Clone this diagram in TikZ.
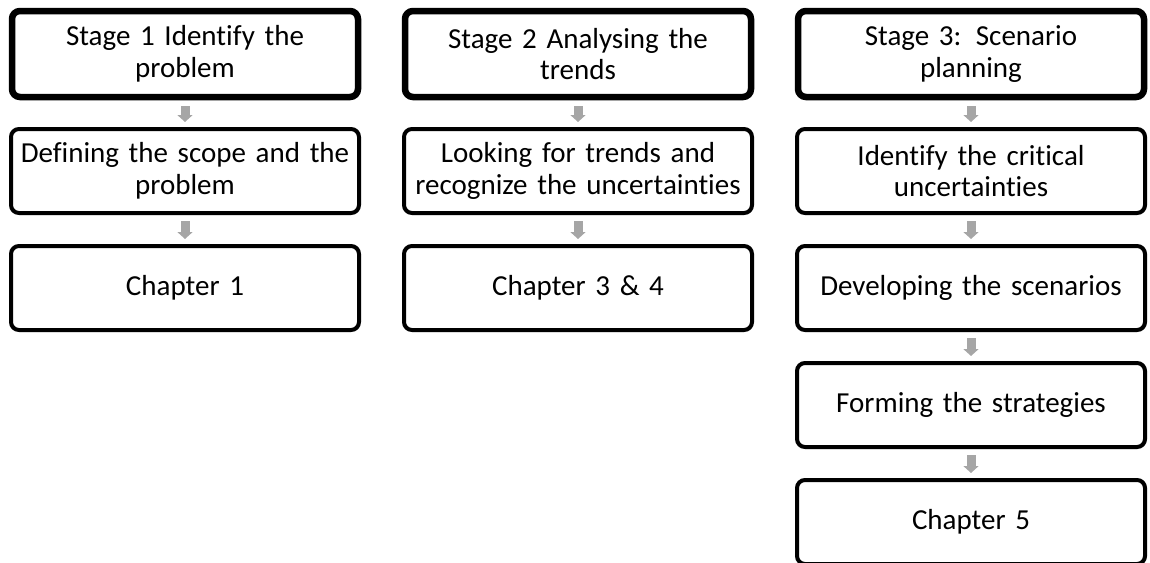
\documentclass[tikz,border=0pt]{standalone}
\usepackage{fontspec}
\setmainfont{Carlito}[Ligatures=NoCommon]
\usetikzlibrary{arrows.meta,shadows}
\definecolor{stepgray}{HTML}{A6A6A6}
\begin{document}
\begin{tikzpicture}[x=1pt,y=-1pt,
  box/.style={draw=black, fill=white, rounded corners=8pt, align=center,
    text width=340pt, inner sep=0pt, font=\fontsize{29}{31.5}\selectfont,
    drop shadow={opacity=0.2, shadow xshift=1pt, shadow yshift=-2pt}},
  stagebox/.style={box, line width=6.5pt, minimum width=346pt, minimum height=86pt},
  taskbox/.style={box, line width=4pt, minimum width=348pt, minimum height=84pt},
  flow/.style={draw=stepgray, line width=9pt,
    -{Triangle[width=15pt,length=7pt]}, shorten <=6pt, shorten >=5pt}]
\useasboundingbox (0,0) rectangle (1150,562);

% Stage 1
\node[stagebox] (s1)  at (185,54)  {Stage 1 Identify the\\problem};
\node[taskbox]  (s1a) at (185,171) {Defining the scope and the\\problem};
\node[taskbox]  (s1b) at (185,288) {Chapter 1};

% Stage 2
\node[stagebox] (s2)  at (578,54)  {Stage 2 Analysing the\\trends};
\node[taskbox]  (s2a) at (578,171) {Looking for trends and\\recognize the uncertainties};
\node[taskbox]  (s2b) at (578,288) {Chapter 3 \& 4};

% Stage 3
\node[stagebox] (s3)  at (971,54)  {Stage 3: Scenario\\planning};
\node[taskbox]  (s3a) at (971,171) {Identify the critical\\uncertainties};
\node[taskbox]  (s3b) at (971,288) {Developing the scenarios};
\node[taskbox]  (s3c) at (971,405) {Forming the strategies};
\node[taskbox]  (s3d) at (971,522) {Chapter 5};

% Flow arrows
\draw[flow] (s1.south)  -- (s1a.north);
\draw[flow] (s1a.south) -- (s1b.north);
\draw[flow] (s2.south)  -- (s2a.north);
\draw[flow] (s2a.south) -- (s2b.north);
\draw[flow] (s3.south)  -- (s3a.north);
\draw[flow] (s3a.south) -- (s3b.north);
\draw[flow] (s3b.south) -- (s3c.north);
\draw[flow] (s3c.south) -- (s3d.north);
\end{tikzpicture}
\end{document}
